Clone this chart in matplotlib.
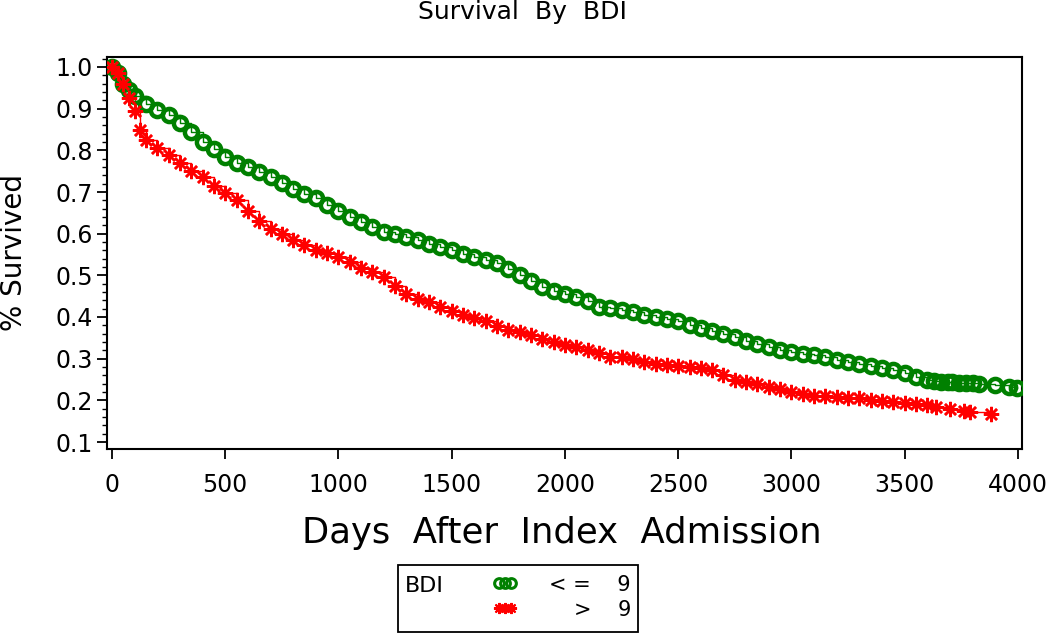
import matplotlib
matplotlib.use("Agg")
import matplotlib.pyplot as plt
from matplotlib.patches import Rectangle
from matplotlib.ticker import MultipleLocator

# ---- data ----
green_days = [0, 25, 50, 75, 100, 150, 200, 250, 300, 350, 400, 450, 500, 550, 600, 650, 700, 750,
              800, 850, 900, 950, 1000, 1050, 1100, 1150, 1200, 1250, 1300, 1350, 1400, 1450,
              1500, 1550, 1600, 1650, 1700, 1750, 1800, 1850, 1900, 1950, 2000, 2050, 2100,
              2150, 2200, 2250, 2300, 2350, 2400, 2450, 2500, 2550, 2600, 2650, 2700, 2750,
              2800, 2850, 2900, 2950, 3000, 3050, 3100, 3150, 3200, 3250, 3300, 3350, 3400,
              3450, 3500, 3550, 3600, 3630, 3660, 3690, 3710, 3740, 3770, 3800, 3830, 3900,
              3960, 3995]
green_surv = [1.000, 0.985, 0.960, 0.945, 0.930, 0.912, 0.898, 0.885, 0.866, 0.845, 0.820, 0.803,
              0.785, 0.770, 0.760, 0.748, 0.735, 0.722, 0.708, 0.695, 0.685, 0.668, 0.655,
              0.640, 0.627, 0.615, 0.604, 0.600, 0.593, 0.585, 0.576, 0.568, 0.560, 0.552,
              0.545, 0.538, 0.530, 0.515, 0.500, 0.487, 0.472, 0.462, 0.455, 0.447, 0.438,
              0.425, 0.421, 0.417, 0.413, 0.406, 0.400, 0.396, 0.390, 0.382, 0.374, 0.366,
              0.360, 0.352, 0.343, 0.335, 0.328, 0.320, 0.315, 0.312, 0.308, 0.303, 0.298,
              0.293, 0.288, 0.282, 0.277, 0.272, 0.266, 0.257, 0.250, 0.247, 0.245, 0.243,
              0.243, 0.242, 0.242, 0.242, 0.240, 0.238, 0.232, 0.230]

red_days = [0, 25, 50, 75, 100, 125, 150, 200, 250, 300, 350, 400, 450, 500, 550, 600, 650, 700,
            750, 800, 850, 900, 950, 1000, 1050, 1100, 1150, 1200, 1250, 1300, 1350, 1400,
            1450, 1500, 1550, 1600, 1650, 1700, 1750, 1800, 1850, 1900, 1950, 2000, 2050,
            2100, 2150, 2200, 2250, 2300, 2350, 2400, 2450, 2500, 2550, 2600, 2650, 2700,
            2750, 2800, 2850, 2900, 2950, 3000, 3050, 3100, 3150, 3200, 3250, 3300, 3350,
            3400, 3450, 3500, 3550, 3600, 3640, 3700, 3760, 3790, 3880]
red_surv = [1.000, 0.985, 0.960, 0.925, 0.895, 0.850, 0.825, 0.805, 0.790, 0.770, 0.750, 0.735,
            0.715, 0.697, 0.680, 0.655, 0.630, 0.612, 0.600, 0.585, 0.572, 0.560, 0.553,
            0.545, 0.532, 0.518, 0.508, 0.495, 0.475, 0.455, 0.443, 0.435, 0.425, 0.415,
            0.405, 0.398, 0.390, 0.378, 0.370, 0.365, 0.357, 0.348, 0.340, 0.333, 0.327,
            0.320, 0.313, 0.305, 0.303, 0.300, 0.292, 0.288, 0.285, 0.283, 0.280, 0.278,
            0.273, 0.262, 0.250, 0.245, 0.240, 0.233, 0.228, 0.220, 0.215, 0.210, 0.210,
            0.207, 0.206, 0.205, 0.202, 0.198, 0.195, 0.193, 0.192, 0.190, 0.185, 0.180,
            0.175, 0.173, 0.168]

x_ticks = [0, 500, 1000, 1500, 2000, 2500, 3000, 3500, 4000]
y_ticks = [0.1, 0.2, 0.3, 0.4, 0.5, 0.6, 0.7, 0.8, 0.9, 1.0]

GREEN = "#008000"
RED = "#FF0000"
FONT = "DejaVu Sans"
plt.rcParams["font.family"] = FONT

fig = plt.figure(figsize=(10.5, 6.35), dpi=100)
ax = fig.add_axes([107 / 1050, 1 - 449 / 635, (1022 - 107) / 1050, (449 - 57) / 635])

star = (8, 2, 0)
ax.step(green_days, green_surv, where="post", color=GREEN, lw=1.0, zorder=2)
ax.plot(green_days, green_surv, ls="none", marker="o", ms=9.5, mfc="none",
        mec=GREEN, mew=3.2, zorder=3)
ax.step(red_days, red_surv, where="post", color=RED, lw=1.0, zorder=2)
ax.plot(red_days, red_surv, ls="none", marker=star, ms=11, mec=RED, mew=1.8,
        color=RED, zorder=3)

ax.set_xlim(-22, 4018)
ax.set_ylim(0.0832, 1.024)
ax.set_xticks(x_ticks)
ax.set_xticklabels([str(v) for v in x_ticks])
ax.set_yticks(y_ticks)
ax.set_yticklabels([f"{v:.1f}" for v in y_ticks])
ax.yaxis.set_minor_locator(MultipleLocator(0.02))
ax.tick_params(axis="both", which="major", direction="out", length=7, width=1.3,
               labelsize=17, colors="black")
ax.tick_params(axis="y", which="minor", direction="out", length=3.5, width=1.0)
ax.tick_params(axis="x", pad=10)
ax.tick_params(axis="y", pad=3)
for s in ax.spines.values():
    s.set_linewidth(1.5)
    s.set_color("black")

fig.text(523 / 1050, 1 - 12 / 635, "Survival  By  BDI", ha="center", va="center",
         fontsize=18)
fig.text(562 / 1050, 1 - 533 / 635, "Days  After  Index  Admission", ha="center",
         va="center", fontsize=25.5)
fig.text(14 / 1050, 1 - 252 / 635, "% Survived", ha="center", va="center",
         rotation=90, fontsize=20)

# legend box
lx0, lx1, ly0, ly1 = 398, 638, 565, 632
fig.patches.append(Rectangle((lx0 / 1050, 1 - ly1 / 635), (lx1 - lx0) / 1050,
                             (ly1 - ly0) / 635, transform=fig.transFigure,
                             fill=False, ec="black", lw=1.3))
fig.text(405 / 1050, 1 - 586 / 635, "BDI", ha="left", va="center", fontsize=16)
lax = fig.add_axes([0, 0, 1, 1], facecolor="none")
lax.set_xlim(0, 1050)
lax.set_ylim(635, 0)
lax.axis("off")
lax.plot([499, 505, 511], [583, 583, 583], ls="none", marker="o", ms=7, mfc="none",
         mec=GREEN, mew=2.2)
lax.plot([499, 505, 511], [608, 608, 608], ls="none", marker=star, ms=8, mec=RED,
         mew=1.5)
fig.text(631 / 1050, 1 - 585 / 635, "< =    9", ha="right", va="center", fontsize=15)
fig.text(631 / 1050, 1 - 610 / 635, ">    9", ha="right", va="center", fontsize=15)

fig.savefig("out.png", dpi=100)
